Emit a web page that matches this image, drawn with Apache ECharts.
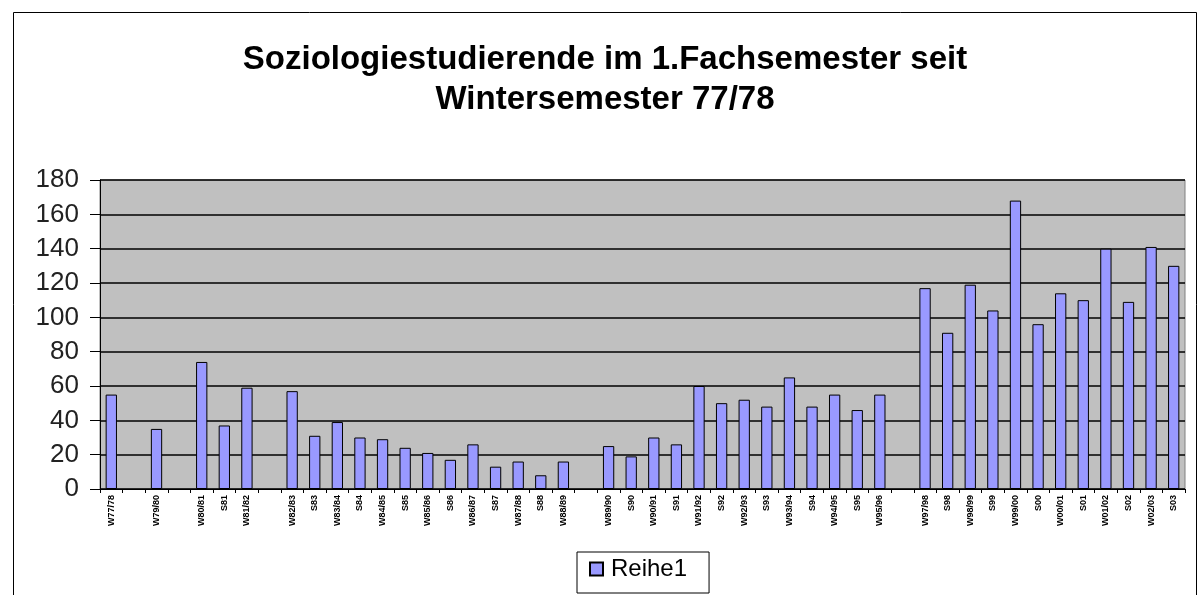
<!DOCTYPE html>
<html>
<head>
<meta charset="utf-8">
<script src="https://cdn.jsdelivr.net/npm/echarts@6/dist/echarts.min.js"></script>
<style>
html,body{margin:0;padding:0;background:#fff;}
#chart{width:1200px;height:595px;}
</style>
</head>
<body>
<div id="chart"></div>
<script>
const titleText = 'Soziologiestudierende im 1.Fachsemester seit\nWintersemester 77/78';
const seriesName = 'Reihe1';
const categories = [
  'W77/78','','W79/80','','W80/81','S81','W81/82','',
  'W82/83','S83','W83/84','S84','W84/85','S85','W85/86','S86',
  'W86/87','S87','W87/88','S88','W88/89','','W89/90','S90',
  'W90/91','S91','W91/92','S92','W92/93','S93','W93/94','S94',
  'W94/95','S95','W95/96','','W97/98','S98','W98/99','S99',
  'W99/00','S00','W00/01','S01','W01/02','S02','W02/03','S03'
];
const values = [
  55,null,35,null,74,37,59,null,
  57,31,39,30,29,24,21,17,
  26,13,16,8,16,null,25,19,
  30,26,60,50,52,48,65,48,
  55,46,55,null,117,91,119,104,
  168,96,114,110,140,109,141,130
];
const yTicks = {min:0, max:180, interval:20};

const chart = echarts.init(document.getElementById('chart'), null, {renderer:'canvas'});
const font = '"Liberation Sans", Arial, sans-serif';
chart.setOption({
  animation:false,
  backgroundColor:'#fff',
  title:{
    text:titleText,
    left:600, top:35,
    textAlign:'center',
    textStyle:{fontFamily:font, fontSize:33, fontWeight:'bold', color:'#000', lineHeight:40}
  },
  graphic:[{
    type:'rect', left:11, top:10,
    shape:{width:1183, height:600},
    style:{fill:'none', stroke:'#000', lineWidth:1},
    silent:true, z:-1
  }],
  legend:{
    data:[seriesName],
    left:577, top:552,
    borderColor:'#000', borderWidth:1,
    padding:[5,22,12,12],
    itemWidth:13, itemHeight:13, itemGap:4,
    icon:'rect',
    textStyle:{fontFamily:font, fontSize:24, color:'#000', padding:[0,0,0,3]}
  },
  grid:{
    left:100, right:15, top:180, bottom:106,
    show:true, backgroundColor:'#C0C0C0', borderColor:'#808080', borderWidth:1
  },
  xAxis:{
    type:'category', data:categories, boundaryGap:true,
    axisLine:{lineStyle:{color:'#000', width:1}},
    axisTick:{show:true, alignWithLabel:false, interval:0, length:4, lineStyle:{color:'#000'}},
    axisLabel:{interval:0, rotate:90, fontFamily:font, fontSize:9, fontWeight:'bold', color:'#000', margin:6}
  },
  yAxis:{
    type:'value', min:yTicks.min, max:yTicks.max, interval:yTicks.interval,
    axisLine:{show:true, lineStyle:{color:'#000', width:1}},
    axisTick:{show:true, length:10, lineStyle:{color:'#000'}},
    axisLabel:{fontFamily:font, fontSize:26, color:'#222', margin:21},
    splitLine:{show:true, lineStyle:{color:'#000', width:1.5}}
  },
  series:[{
    name:seriesName, type:'bar', data:values,
    barWidth:'50%',
    itemStyle:{color:'#9999FF', borderColor:'#000', borderWidth:1}
  }]
});
</script>
</body>
</html>
